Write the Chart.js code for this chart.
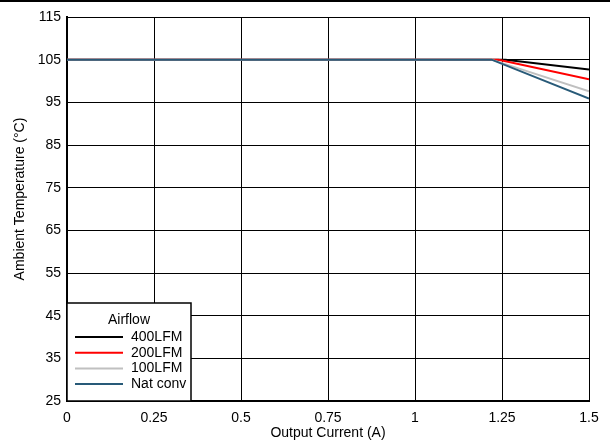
<!DOCTYPE html>
<html><head><meta charset="utf-8">
<script src="https://cdn.jsdelivr.net/npm/chart.js@4.4.0/dist/chart.umd.min.js"></script>
<style>
html,body{margin:0;padding:0;background:#fff;}
#wrap{position:relative;width:610px;height:445px;}
#topline{position:absolute;left:0;top:0;width:610px;height:2px;background:#000;}
</style></head>
<body>
<div id="wrap"><canvas id="c" width="610" height="445"></canvas><div id="topline"></div></div>
<script>
const seriesNames = ["400LFM", "200LFM", "100LFM", "Nat conv"];
const seriesColors = ["#000000", "#ff0000", "#c0c0c0", "#285a78"];
const x400 = [0, 1.26, 1.5];
const y400 = [105, 105, 102.7];
const x200 = [0, 1.24, 1.5];
const y200 = [105, 105, 100.4];
const x100 = [0, 1.22, 1.5];
const y100 = [105, 105, 97.6];
const xNat = [0, 1.22, 1.5];
const yNat = [105, 105, 95.9];
const xTicks = [0, 0.25, 0.5, 0.75, 1, 1.25, 1.5];
const yTicks = [25, 35, 45, 55, 65, 75, 85, 95, 105, 115];
const yTitle = "Ambient Temperature (°C)";

const xs = [x400, x200, x100, xNat];
const ys = [y400, y200, y100, yNat];
const FONT = "'Liberation Sans', Arial, sans-serif";
const FS = 14;

const datasets = seriesNames.map((n, i) => ({
  label: n,
  data: xs[i].map((x, k) => ({x: x, y: ys[i][k]})),
  borderColor: seriesColors[i],
  backgroundColor: seriesColors[i],
  borderWidth: 2,
  pointRadius: 0,
  tension: 0,
  order: 3 - i
}));

const legendPlugin = {
  id: 'boxLegend',
  afterDatasetsDraw(chart) {
    const ctx = chart.ctx;
    const a = chart.chartArea;
    const bx = a.left, by = a.bottom - 98, bw = 124, bh = 98;
    ctx.save();
    ctx.fillStyle = '#fff';
    ctx.fillRect(bx, by, bw, bh);
    ctx.strokeStyle = '#000';
    ctx.lineWidth = 1.5;
    ctx.strokeRect(bx, by, bw, bh);
    ctx.fillStyle = '#000';
    ctx.font = FS + "px " + FONT;
    ctx.textBaseline = 'middle';
    ctx.textAlign = 'center';
    ctx.fillText('Airflow', bx + 62, by + 17);
    ctx.textAlign = 'left';
    seriesNames.forEach((n, i) => {
      const yy = by + 34 + i * 15.7;
      ctx.strokeStyle = seriesColors[i];
      ctx.lineWidth = 2;
      ctx.beginPath();
      ctx.moveTo(bx + 8, yy);
      ctx.lineTo(bx + 56, yy);
      ctx.stroke();
      ctx.fillStyle = '#000';
      ctx.fillText(n, bx + 64, yy);
    });
    ctx.restore();
  },
  afterDraw(chart) {
    const ctx = chart.ctx;
    ctx.save();
    ctx.translate(20, 199);
    ctx.rotate(-Math.PI / 2);
    ctx.fillStyle = '#000';
    ctx.font = FS + "px " + FONT;
    ctx.textAlign = 'center';
    ctx.textBaseline = 'middle';
    ctx.fillText(yTitle, 0, 0);
    ctx.restore();
  }
};

new Chart(document.getElementById('c'), {
  type: 'line',
  data: { datasets },
  plugins: [legendPlugin],
  options: {
    responsive: false,
    animation: false,
    devicePixelRatio: 1,
    layout: { padding: { left: 0, right: 21, top: 17, bottom: 0 } },
    plugins: { legend: { display: false }, tooltip: { enabled: false } },
    scales: {
      x: {
        type: 'linear', min: 0, max: 1.5,
        afterFit(s) { s.height = 44; },
        afterBuildTicks(s) { s.ticks = xTicks.map(v => ({value: v})); },
        ticks: { color: '#000', font: { family: FONT, size: FS }, padding: 9, maxRotation: 0,
                 callback: (v) => String(v) },
        grid: { color: '#000', lineWidth: 1, drawTicks: false },
        border: { color: '#000', width: 2 },
        title: { display: true, text: 'Output Current (A)', color: '#000', font: { family: FONT, size: FS }, padding: { top: 0, bottom: 3 } }
      },
      y: {
        type: 'linear', min: 25, max: 115,
        afterFit(s) { s.width = 67; },
        afterBuildTicks(s) { s.ticks = yTicks.map(v => ({value: v})); },
        ticks: { color: '#000', font: { family: FONT, size: FS }, padding: 6, callback: (v) => String(v) },
        grid: { color: '#000', lineWidth: 1, drawTicks: false },
        border: { color: '#000', width: 2 },
        title: { display: false }
      }
    }
  }
});
</script>
</body></html>
